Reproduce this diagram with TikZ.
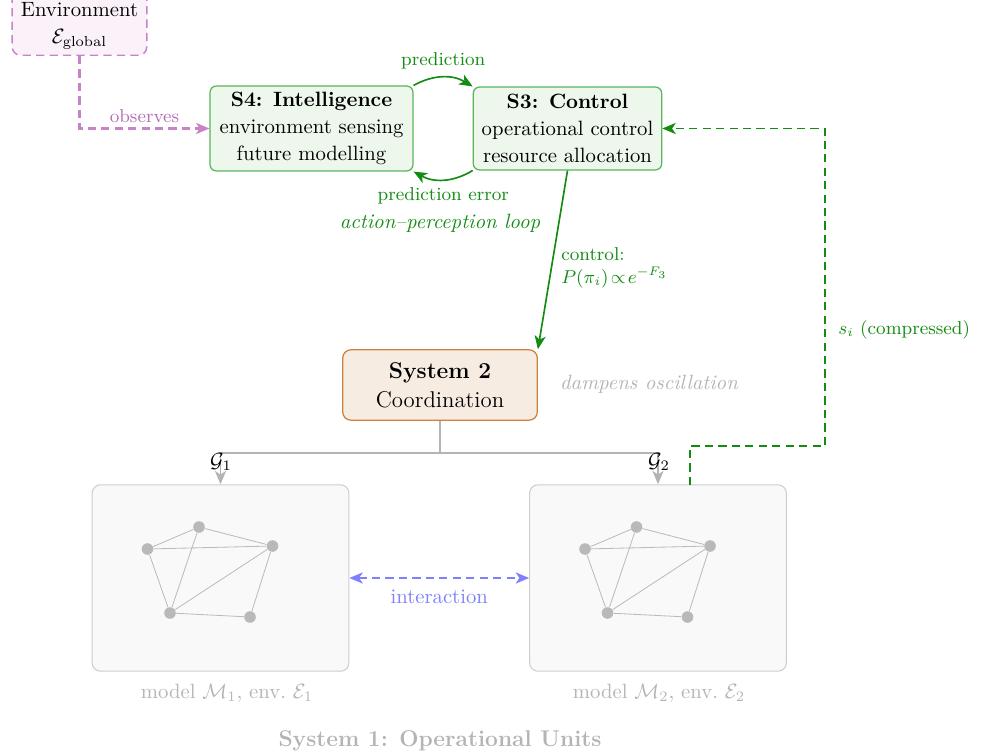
\documentclass[tikz,border=0pt]{standalone}
\usetikzlibrary{arrows.meta,calc}
\definecolor{ggreen}{RGB}{20,140,20}
\definecolor{gborder}{RGB}{90,180,90}
\definecolor{gfill}{RGB}{238,247,236}
\definecolor{pline}{RGB}{200,130,200}
\definecolor{ptext}{RGB}{180,110,180}
\definecolor{pfill}{RGB}{251,242,249}
\definecolor{oborder}{RGB}{205,130,60}
\definecolor{ofill}{RGB}{247,236,226}
\definecolor{ugray}{RGB}{180,180,180}
\definecolor{ufill}{RGB}{249,249,249}
\definecolor{uborder}{RGB}{205,205,205}
\definecolor{ndgray}{RGB}{185,185,185}
\definecolor{iblue}{RGB}{128,128,255}
\begin{document}
\begin{tikzpicture}[x=0.483pt,y=-0.483pt,
  gbox/.style={draw=gborder,fill=gfill,rounded corners=3pt,align=center,inner sep=0pt,line width=0.6pt},
  unitbox/.style={draw=uborder,fill=ufill,rounded corners=4pt,inner sep=0pt,minimum width=124pt,minimum height=90pt,line width=0.5pt},
  gnode/.style={circle,fill=ndgray,inner sep=0pt,minimum size=5.6pt},
  gedge/.style={draw=ugray!90,line width=0.4pt},
  tip/.style={-{Stealth[length=6.5pt,width=5.4pt,inset=1.8pt]}},
  dsh/.style={dash pattern=on 4pt off 2.5pt},
]
\useasboundingbox (0,0) rectangle (988,753);
% Environment
\node[draw=pline,dsh,fill=pfill,rounded corners=4pt,inner sep=0pt,minimum width=65pt,minimum height=35pt,line width=0.7pt] (env) at (79.5,19) {};
\node[align=center,inner sep=0pt] (envt) at (79.5,26) {Environment\\[1pt]$\mathcal{E}_{\mathrm{global}}$};
% S4, S3
\node[gbox,minimum width=98pt,minimum height=41pt] (s4) at (311.5,128.5) {\textbf{S4: Intelligence}\\[1pt]environment sensing\\[1pt]future modelling};
\node[gbox,minimum width=91pt,minimum height=40pt] (s3) at (567.5,128.5) {\textbf{S3: Control}\\[1pt]operational control\\[1pt]resource allocation};
% System 2
\node[draw=oborder,fill=ofill,rounded corners=4pt,align=center,inner sep=0pt,minimum width=94pt,minimum height=34pt,line width=0.6pt,font=\fontsize{11}{14}\selectfont] (sys2) at (440,385) {\textbf{System 2}\\Coordination};
\node[text=ugray,font=\itshape] (damp) at (649,384) {dampens oscillation};
% Units
\node[unitbox] (u1) at (220.5,578) {};
\node[unitbox] (u2) at (658,578) {};
\node[text=ugray] (l1) at (227,693) {model $\mathcal{M}_1$, env.\ $\mathcal{E}_1$};
\node[text=ugray] (l2) at (659,693) {model $\mathcal{M}_2$, env.\ $\mathcal{E}_2$};
\node[text=ugray,font=\fontsize{11}{13}\selectfont\bfseries] (s1) at (440,741) {System 1: Operational Units};
% graphs
\foreach \dx/\g in {0/a,437.5/b}{
  \node[gnode] (\g1) at (147.5+\dx,549) {};
  \node[gnode] (\g2) at (199+\dx,527) {};
  \node[gnode] (\g3) at (272.5+\dx,546) {};
  \node[gnode] (\g4) at (170+\dx,613) {};
  \node[gnode] (\g5) at (250+\dx,617) {};
  \draw[gedge] (\g1) -- (\g2) (\g2) -- (\g3) (\g1) -- (\g3) (\g1) -- (\g4) (\g2) -- (\g4) (\g3) -- (\g4) (\g3) -- (\g5) (\g4) -- (\g5);
}
% observes
\draw[pline,dsh,line width=1pt,tip] (env.south) |- (s4.west) node[pos=0.75,above=-1pt,text=ptext,font=\small] {observes};
% prediction loop
\draw[ggreen,line width=0.8pt,tip] (s4.north east) to[bend left=30] node[above=0pt,font=\small] {prediction} (s3.north west);
\draw[ggreen,line width=0.8pt,tip] (s3.south west) to[bend left=30] node[below=0pt,font=\small] {prediction error} (s4.south east);
\node[text=ggreen,font=\itshape] (apl) at (440,223) {action--perception loop};
% control
\draw[ggreen,line width=0.8pt,tip] (s3.south) -- (sys2.north east);
\node[text=ggreen,font=\small,align=left,anchor=west] (ctl) at (554,268) {control:\\$P(\pi_i)\!\propto\! e^{-F_3}$};
% s_i feedback
\coordinate (sst) at (690,485);
\coordinate (sa) at (690,446);
\coordinate (sb) at (825,446);
\coordinate (sc) at (825,128.5);
\draw[ggreen,dsh,line width=0.9pt,tip] (sst) -- (sa) -- (sb) -- (sc) -- (s3.east);
\node[text=ggreen,font=\small,anchor=west] (sil) at (831,330) {$s_i$ (compressed)};
% G distribution
\coordinate (jn) at (440,453);
\coordinate (j1) at (220.5,453);
\coordinate (j2) at (658,453);
\draw[ugray,line width=0.9pt] (sys2.south) -- (jn);
\draw[ugray,line width=0.9pt] (j1) -- (j2);
\draw[ugray,line width=0.9pt,tip] (j1) -- (u1.north);
\draw[ugray,line width=0.9pt,tip] (j2) -- (u2.north);
\node (g1) at (221,462) {$\mathcal{G}_1$};
\node (g2) at (659,462) {$\mathcal{G}_2$};
% interaction
\draw[iblue,dsh,line width=0.9pt,{Stealth[length=6.5pt,width=5.4pt,inset=1.8pt]}-{Stealth[length=6.5pt,width=5.4pt,inset=1.8pt]}] (u1.east) -- (u2.west) node[midway,below=2pt] {interaction};
\end{tikzpicture}
\end{document}
